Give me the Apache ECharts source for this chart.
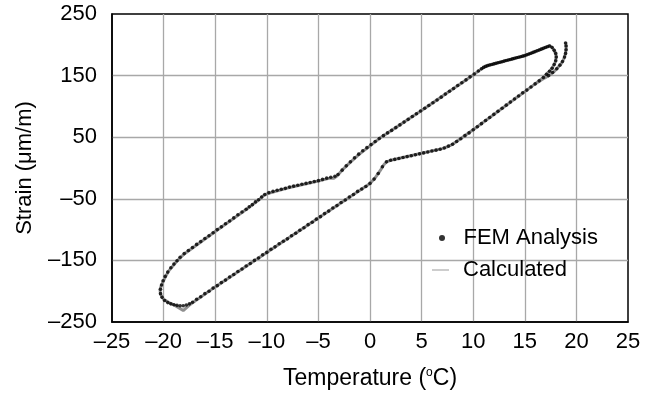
<!DOCTYPE html>
<html>
<head>
<meta charset="utf-8">
<script src="https://cdn.jsdelivr.net/npm/echarts@6/dist/echarts.min.js"></script>
<style>
html,body{margin:0;padding:0;background:#fff;}
#chart{width:659px;height:396px;}
</style>
</head>
<body>
<div id="chart"></div>
<script>
// ---- tick labels ----
var xTickValues = [-25,-20,-15,-10,-5,0,5,10,15,20,25];
var xTickLabels = ['\u201325','\u201320','\u201315','\u201310','\u20135','0','5','10','15','20','25'];
var yTickValues = [-250,-150,-50,50,150,250];
var yTickLabels = ['\u2013250','\u2013150','\u201350','50','150','250'];

// ---- series names ----
var seriesNames = ['FEM Analysis', 'Calculated'];

// ---- FEM Analysis points [temperature °C, strain µm/m] ----
var femData = [
  // lower branch
  [-17.2,-218],[-16.8,-213],[-16.4,-209],[-16.0,-204],[-15.6,-200],[-15.2,-195],[-14.8,-191],[-14.4,-186],
  [-14.0,-182],[-13.6,-177],[-13.2,-173],[-12.8,-168],[-12.4,-164],[-12.0,-159],[-11.6,-155],[-11.2,-150],
  [-10.8,-146],[-10.4,-141],[-10.0,-137],[-9.6,-132],[-9.2,-128],[-8.8,-123],[-8.4,-119],[-8.0,-115],
  [-7.6,-110],[-7.2,-106],[-6.8,-101],[-6.4,-97],[-6.0,-92],[-5.6,-88],[-5.2,-83],[-4.8,-79],
  [-4.4,-74],[-4.0,-70],[-3.6,-65],[-3.2,-61],[-2.8,-56],[-2.4,-52],[-2.0,-47],[-1.6,-43],
  [-1.2,-38],[-0.8,-34],[-0.4,-30],[0.0,-25],[0.4,-18],[0.8,-9],[1.2,2],[1.6,10],
  [2.0,12.5],[2.4,14],[2.8,15.5],[3.2,17],[3.6,18.5],[4.0,20],[4.4,21.5],[4.8,23],
  [5.2,24.5],[5.6,26],[6.0,27.5],[6.4,29],[6.8,30.5],[7.2,32.5],[7.6,35.5],[8.0,38.5],
  [8.4,43],[8.8,47.5],[9.2,52.5],[9.6,57],[10.0,62],[10.4,67],[10.8,72],[11.2,77],
  [11.6,82],[12.0,87],[12.4,92],[12.8,97],[13.2,102],[13.6,107],[14.0,112],[14.4,117],
  [14.8,122],[15.2,126.5],[15.6,131.5],[16.0,136.5],[16.4,141.5],
  // inner hook
  [16.8,147],[17.1,152],[17.4,157],[17.65,162],[17.85,168],[18.0,174],[18.05,180],[18.0,186],
  [17.85,191],[17.65,195.5],[17.4,198],
  // outer hook
  [17.3,150],[17.7,155],[18.1,161],[18.4,167],[18.65,173],[18.85,180],[18.95,186],[19.0,192],
  [19.0,198],[18.95,203],
  // upper branch, top segment
  [17.2,196.8],[17.0,195.5],[16.8,194.2],[16.6,192.9],[16.4,191.6],[16.2,190.3],[16.0,189],[15.8,187.7],
  [15.6,186.4],[15.4,185.1],[15.2,183.8],[15.0,182.5],[14.8,181.6],[14.6,180.7],[14.4,179.8],[14.2,178.9],
  [14.0,178],[13.8,177.1],[13.6,176.2],[13.4,175.3],[13.2,174.4],[13.0,173.5],[12.8,172.6],[12.6,171.7],
  [12.4,170.8],[12.2,169.9],[12.0,169],[11.8,168.1],[11.6,167.2],[11.4,166.2],[11.2,164.9],[11.0,163.3],
  [10.8,161.2],
  // upper branch, steep middle
  [10.5,157.5],[10.1,152.5],[9.7,148],[9.3,143],[8.9,138.5],[8.5,134],[8.1,129],[7.7,124.5],
  [7.3,120],[6.9,115],[6.5,110.5],[6.1,106],[5.7,101.5],[5.3,97],[4.9,92.5],[4.5,88],
  [4.1,83.5],[3.7,79],[3.3,74.5],[2.9,70],[2.5,65.5],[2.1,61],[1.7,57],[1.3,52.5],
  [0.9,48],[0.5,43],[0.1,38],[-0.3,33],[-0.7,28],[-1.1,22.5],[-1.5,16.5],[-1.9,10],
  [-2.3,3.5],[-2.7,-3.5],[-3.1,-10.5],[-3.4,-13.5],
  // upper branch, shallow
  [-3.8,-15],[-4.2,-16.5],[-4.6,-18.5],[-5.0,-20.5],[-5.4,-22],[-5.8,-23.5],[-6.2,-25],[-6.6,-26.5],
  [-7.0,-28],[-7.4,-29.5],[-7.8,-31],[-8.2,-33],[-8.6,-34.5],[-9.0,-36],[-9.4,-38],[-9.8,-40],
  [-10.2,-43],
  // upper branch, left steep and bottom turn
  [-10.5,-47],[-10.8,-51.5],[-11.1,-55],[-11.4,-59.5],[-11.7,-63],[-12.0,-67],[-12.4,-71.5],[-12.8,-76],
  [-13.2,-81],[-13.6,-86],[-14.0,-90.5],[-14.4,-95.5],[-14.8,-100],[-15.2,-105],[-15.6,-110],[-16.0,-114.5],
  [-16.4,-119.5],[-16.8,-124],[-17.2,-129],[-17.6,-134],[-18.0,-139],[-18.4,-145],[-18.7,-150.5],[-19.0,-156],
  [-19.3,-162],[-19.6,-169],[-19.85,-176],[-20.05,-183],[-20.2,-190],[-20.3,-197],[-20.3,-204],[-20.15,-210],
  [-19.9,-215],[-19.6,-218.5],[-19.3,-220.5],[-19.0,-222],[-18.7,-223],[-18.4,-223.5],[-18.1,-223.5],[-17.8,-222.5],
  [-17.5,-220.5]
];

// ---- Calculated curve vertices [temperature °C, strain µm/m] ----
var calcData = [
  [14.0,112],[15.0,124],[16.0,136.5],[16.8,147],[17.2,154],[17.5,159],[17.75,165],[17.95,172],
  [18.05,181],[17.95,187],[17.8,192],[17.6,196.5],[17.4,198.5],[17.2,197.3],[16.0,189],[15.0,182.5],
  [14.0,178],[13.0,173.5],[12.0,169],[11.5,166.8],[11.0,163.3],[10.6,158.5],[10.0,151],[5.0,93.5],
  [1.0,49],[0.0,36],[-1.0,23],[-2.0,8],[-2.7,-3.5],[-3.2,-13],[-3.5,-16.5],[-3.9,-16.5],
  [-5.0,-21],[-8.0,-32.5],[-10.0,-42],[-10.4,-46],[-10.7,-51],[-12.0,-67.5],[-15.0,-103],[-18.0,-139.5],
  [-18.7,-151],[-19.5,-167],[-19.9,-179],[-20.2,-190],[-20.35,-197],[-20.3,-205],[-20.0,-213],[-19.5,-218.5],
  [-18.9,-223],[-18.1,-231.5],[-17.5,-222.5],[-15.0,-193],[-10.0,-137],[-5.0,-81],[0.0,-25],[0.5,-16],
  [1.0,-4],[1.3,4.5],[1.6,10],[2.0,12.5],[5.0,24],[7.0,31.5],[7.5,34.5],[8.0,38.5],
  [10.0,62],[15.0,124],[16.0,136.5],[16.9,146],[17.4,150.5],[17.8,156],[18.3,165],[18.6,171],
  [18.8,178],[18.95,186],[19.0,194],[19.0,199],[18.95,204]
];

var FONT = 'Liberation Sans, Arial, Helvetica, sans-serif';
var FS = 22;

function labelFor(values, labels) {
  return function (v) {
    for (var i = 0; i < values.length; i++) {
      if (Math.abs(values[i] - v) < 1e-6) return labels[i];
    }
    return '';
  };
}

var chart = echarts.init(document.getElementById('chart'), null, {renderer: 'canvas'});
chart.setOption({
  animation: false,
  backgroundColor: '#fff',
  textStyle: {fontFamily: FONT, color: '#000'},
  grid: {
    left: 112, right: 31, top: 14, bottom: 74,
    show: true, borderColor: '#000', borderWidth: 1.5, backgroundColor: 'transparent'
  },
  xAxis: {
    type: 'value', min: -25, max: 25, interval: 5,
    name: 'Temperature ({s|o}C)',
    nameLocation: 'middle', nameGap: 45,
    nameTextStyle: {
      fontFamily: FONT, fontSize: 23, color: '#000',
      rich: { s: {fontFamily: FONT, fontSize: 12, color: '#000', padding: [0, 0, 11, 0]} }
    },
    axisLine: {show: true, onZero: false, lineStyle: {color: '#000', width: 1.5}},
    axisTick: {show: false},
    axisLabel: {fontFamily: FONT, fontSize: FS, color: '#000', margin: 9, formatter: labelFor(xTickValues, xTickLabels)},
    splitLine: {show: true, showMinLine: false, showMaxLine: false, lineStyle: {color: '#a8a8a8', width: 1.3}}
  },
  yAxis: {
    type: 'value', min: -250, max: 250, interval: 100,
    name: 'Strain (\u03bcm/m)',
    nameLocation: 'middle', nameGap: 76, nameRotate: 90,
    nameTextStyle: {fontFamily: FONT, fontSize: FS, color: '#000'},
    axisLine: {show: true, onZero: false, lineStyle: {color: '#000', width: 1.5}},
    axisTick: {show: false},
    axisLabel: {fontFamily: FONT, fontSize: FS, color: '#000', margin: 15, formatter: labelFor(yTickValues, yTickLabels)},
    splitLine: {show: true, showMinLine: false, showMaxLine: false, lineStyle: {color: '#a8a8a8', width: 1.3}}
  },
  legend: [
    {
      data: [seriesNames[0]],
      left: 439, top: 227, padding: 0,
      icon: 'circle', itemWidth: 33, itemHeight: 6, itemGap: 0,
      textStyle: {fontFamily: FONT, fontSize: FS, color: '#000'},
      selectedMode: false
    },
    {
      data: [seriesNames[1]],
      left: 432, top: 259, padding: 0,
      icon: 'rect', itemWidth: 17, itemHeight: 1, itemGap: 0,
      itemStyle: {color: '#9a9a9a'},
      textStyle: {fontFamily: FONT, fontSize: FS, color: '#000', padding: [0, 0, 0, 9]},
      selectedMode: false
    }
  ],
  series: [
    {
      name: seriesNames[1], type: 'line', data: calcData,
      showSymbol: false, symbol: 'none', smooth: false,
      lineStyle: {color: '#8f8f8f', width: 3},
      itemStyle: {color: '#999'},
      z: 2
    },
    {
      name: seriesNames[0], type: 'scatter', data: femData,
      symbol: 'circle', symbolSize: 3.6,
      itemStyle: {color: '#000'},
      z: 3
    }
  ]
});
</script>
</body>
</html>
